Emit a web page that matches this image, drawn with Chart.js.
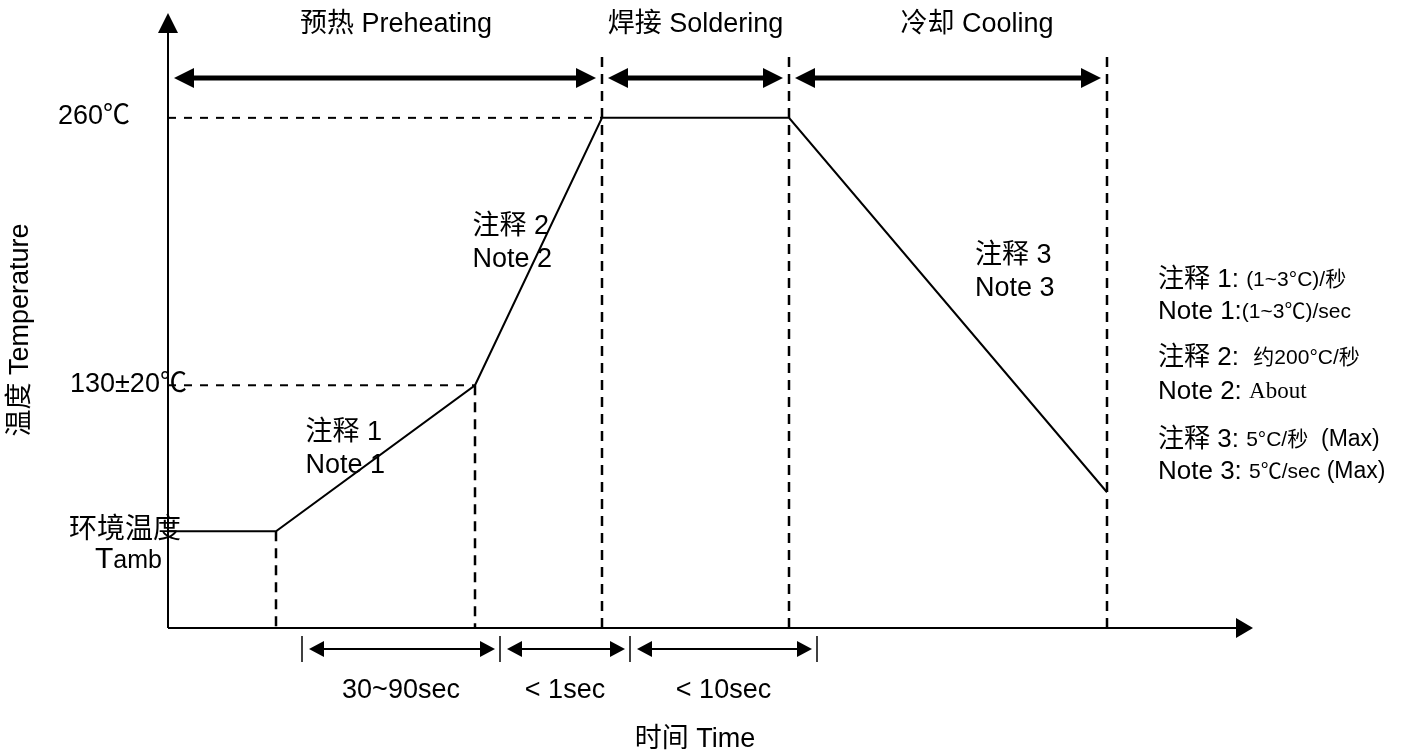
<!DOCTYPE html>
<html>
<head>
<meta charset="utf-8">
<script src="https://cdn.jsdelivr.net/npm/chart.js@4/dist/chart.umd.min.js"></script>
<style>
  html, body { margin: 0; padding: 0; background: #fff; }
  #wrap { width: 1410px; height: 753px; position: relative; }
</style>
</head>
<body>
<div id="wrap"><canvas id="c"></canvas></div>
<script>
// Reflow soldering temperature profile. Time axis is in arbitrary units
// (the original is a schematic), temperature in °C.

const PROFILE_T = [0, 10.8, 30.7, 43.4, 62.1, 93.9];
const PROFILE_C = [59, 59, 130, 260, 260, 78];
const AXIS_T = [0, 108.4];
const AXIS_C = [12, 310];

const PHASE_NAMES = ['预热 Preheating', '焊接 Soldering', '冷却 Cooling'];
const PHASE_EDGES = [0, PROFILE_T[3], PROFILE_T[4], PROFILE_T[5]];

const SPAN_NAMES = ['30~90sec', '< 1sec', '< 10sec'];
const SPAN_EDGES = [13.4, 33.2, 46.2, 64.9];

const TEMP_TICKS = [260, 130];
const TEMP_TICK_LABELS = ['260℃', '130±20℃'];

const SEG_NOTES = [['注释 1', 'Note 1'], ['注释 2', 'Note 2'], ['注释 3', 'Note 3']];
const SEG_NOTE_START = [1, 2, 4];   // profile point where each noted segment starts

const NOTE_LINES = [
  [['注释 1: ', 'big'], ['(1~3°C)/秒', 'small']],
  [['Note 1:', 'big'], ['(1~3℃)/sec', 'small']],
  [['注释 2:  ', 'big'], ['约200°C/秒', 'small']],
  [['Note 2: ', 'big'], ['About', 'serif']],
  [['注释 3: ', 'big'], ['5°C/秒', 'small'], ['  (Max)', 'mid']],
  [['Note 3: ', 'big'], ['5℃/sec', 'small'], [' (Max)', 'mid']],
];

// ── styling / layout ───────────────────────────────────────────────────
const SANS = "'Liberation Sans', 'Noto Sans CJK SC', sans-serif";
const SERIF = "'Liberation Serif', 'Noto Serif CJK SC', serif";
const FONTS = {
  big: `26px ${SANS}`, small: `21px ${SANS}`, mid: `23px ${SANS}`, serif: `23px ${SERIF}`,
};
const LABEL_FONT = `27px ${SANS}`;
const PHASE_SHIFT = [11, 0, 29];
const NOTE_OFFSET = [[-70, -26], [-66, -25], [27, -49]];
const NOTE_BLOCK_X = 1158;
const NOTE_BLOCK_Y = [280, 312, 358, 392, 440, 472];

function head(ctx, x, y, dir, len, half) {
  ctx.beginPath();
  if (dir === 'r') { ctx.moveTo(x, y); ctx.lineTo(x - len, y - half); ctx.lineTo(x - len, y + half); }
  if (dir === 'l') { ctx.moveTo(x, y); ctx.lineTo(x + len, y - half); ctx.lineTo(x + len, y + half); }
  if (dir === 'u') { ctx.moveTo(x, y); ctx.lineTo(x - half, y + len); ctx.lineTo(x + half, y + len); }
  ctx.closePath();
  ctx.fill();
}

function dblArrow(ctx, x1, x2, y, lw, len, half) {
  ctx.lineWidth = lw;
  ctx.setLineDash([]);
  ctx.beginPath();
  ctx.moveTo(x1 + len - 1, y);
  ctx.lineTo(x2 - len + 1, y);
  ctx.stroke();
  head(ctx, x1, y, 'l', len, half);
  head(ctx, x2, y, 'r', len, half);
}

function seg(ctx, x1, y1, x2, y2, lw, dash) {
  ctx.lineWidth = lw;
  ctx.setLineDash(dash || []);
  ctx.beginPath();
  ctx.moveTo(x1, y1);
  ctx.lineTo(x2, y2);
  ctx.stroke();
  ctx.setLineDash([]);
}

function text(ctx, str, x, y, font, align) {
  ctx.font = font;
  ctx.textAlign = align || 'left';
  ctx.textBaseline = 'middle';
  ctx.fillText(str, x, y);
}

function richLine(ctx, parts, x, y) {
  ctx.textAlign = 'left';
  ctx.textBaseline = 'middle';
  parts.forEach(([str, kind]) => {
    ctx.font = FONTS[kind];
    ctx.fillText(str, x, y);
    x += ctx.measureText(str).width;
  });
}

const diagram = {
  id: 'diagram',
  afterDatasetsDraw(chart) {
    const { ctx, chartArea: a, scales: { x, y } } = chart;
    const px = (t) => x.getPixelForValue(t);
    const py = (c) => y.getPixelForValue(c);
    const x0 = px(AXIS_T[0]), y0 = py(AXIS_C[0]);
    ctx.save();
    ctx.fillStyle = '#000';
    ctx.strokeStyle = '#000';

    // axes with arrow heads
    seg(ctx, x0, y0, x0, a.top + 18, 2);
    head(ctx, x0, a.top - 2, 'u', 20, 10);
    seg(ctx, x0, y0, a.right - 15, y0, 2);
    head(ctx, a.right + 1, y0, 'r', 17, 10);

    // temperature guides
    TEMP_TICKS.forEach((c, i) => {
      const k = PROFILE_C.indexOf(c);
      seg(ctx, x0, py(c), px(PROFILE_T[k]), py(c), 2, [8, 8]);
      text(ctx, TEMP_TICK_LABELS[i], i === 0 ? 58 : 70, py(c) - 1, LABEL_FONT);
    });

    // vertical drop lines at the knees of the ramp
    [1, 2].forEach((k) => {
      seg(ctx, px(PROFILE_T[k]), py(PROFILE_C[k]), px(PROFILE_T[k]), y0, 2.5, [10, 7]);
    });
    // phase boundaries
    const top = a.top + 42;
    PHASE_EDGES.slice(1).forEach((t) => seg(ctx, px(t), top, px(t), y0 + 2, 2.5, [10, 7]));

    // phase arrows + names
    const arrowY = a.top + 63;
    PHASE_NAMES.forEach((name, i) => {
      const l = px(PHASE_EDGES[i]) + 6, r = px(PHASE_EDGES[i + 1]) - 6;
      dblArrow(ctx, l, r, arrowY, 5, 20, 10);
      text(ctx, name, (px(PHASE_EDGES[i]) + px(PHASE_EDGES[i + 1])) / 2 + PHASE_SHIFT[i], a.top + 10, LABEL_FONT, 'center');
    });

    // time spans below the axis
    SPAN_EDGES.forEach((t) => seg(ctx, px(t), y0 + 8, px(t), y0 + 34, 1.5));
    SPAN_NAMES.forEach((name, i) => {
      const l = px(SPAN_EDGES[i]) + 7, r = px(SPAN_EDGES[i + 1]) - 5;
      dblArrow(ctx, l, r, y0 + 21, 2, 15, 8);
      text(ctx, name, (px(SPAN_EDGES[i]) + px(SPAN_EDGES[i + 1])) / 2, y0 + 63, LABEL_FONT, 'center');
    });

    // ambient label
    text(ctx, '环境温度', 69, py(PROFILE_C[0]) - 1, `28px ${SANS}`);
    ctx.font = `30px ${SANS}`;
    const tw = ctx.measureText('T').width;
    text(ctx, 'T', 95, py(PROFILE_C[0]) + 28, `30px ${SANS}`);
    text(ctx, 'amb', 95 + tw, py(PROFILE_C[0]) + 30, `25px ${SANS}`);

    // notes on the profile segments
    SEG_NOTES.forEach((lines, i) => {
      const s = SEG_NOTE_START[i];
      const mx = (px(PROFILE_T[s]) + px(PROFILE_T[s + 1])) / 2;
      const my = (py(PROFILE_C[s]) + py(PROFILE_C[s + 1])) / 2;
      const [dx, dy] = NOTE_OFFSET[i];
      text(ctx, lines[0], mx + dx, my + dy, LABEL_FONT);
      text(ctx, lines[1], mx + dx, my + dy + 33, LABEL_FONT);
    });

    // side legend of slopes
    NOTE_LINES.forEach((parts, i) => richLine(ctx, parts, NOTE_BLOCK_X, NOTE_BLOCK_Y[i]));

    // axis titles
    text(ctx, '时间 Time', 695, 740, LABEL_FONT, 'center');
    ctx.save();
    ctx.translate(21, 330);
    ctx.rotate(-Math.PI / 2);
    text(ctx, '温度 Temperature', 0, 0, LABEL_FONT, 'center');
    ctx.restore();

    ctx.restore();
  },
};

new Chart(document.getElementById('c'), {
  type: 'scatter',
  data: {
    datasets: [{
      label: 'profile',
      data: PROFILE_T.map((t, i) => ({ x: t, y: PROFILE_C[i] })),
      showLine: true,
      borderColor: '#000',
      borderWidth: 2,
      pointRadius: 0,
      tension: 0,
    }],
  },
  options: {
    responsive: true,
    maintainAspectRatio: false,
    animation: false,
    layout: { padding: { left: 168, right: 158, top: 15, bottom: 125 } },
    plugins: { legend: { display: false }, tooltip: { enabled: false } },
    scales: {
      x: { type: 'linear', min: AXIS_T[0], max: AXIS_T[1], display: false },
      y: { type: 'linear', min: AXIS_C[0], max: AXIS_C[1], display: false },
    },
  },
  plugins: [diagram],
});
</script>
</body>
</html>
